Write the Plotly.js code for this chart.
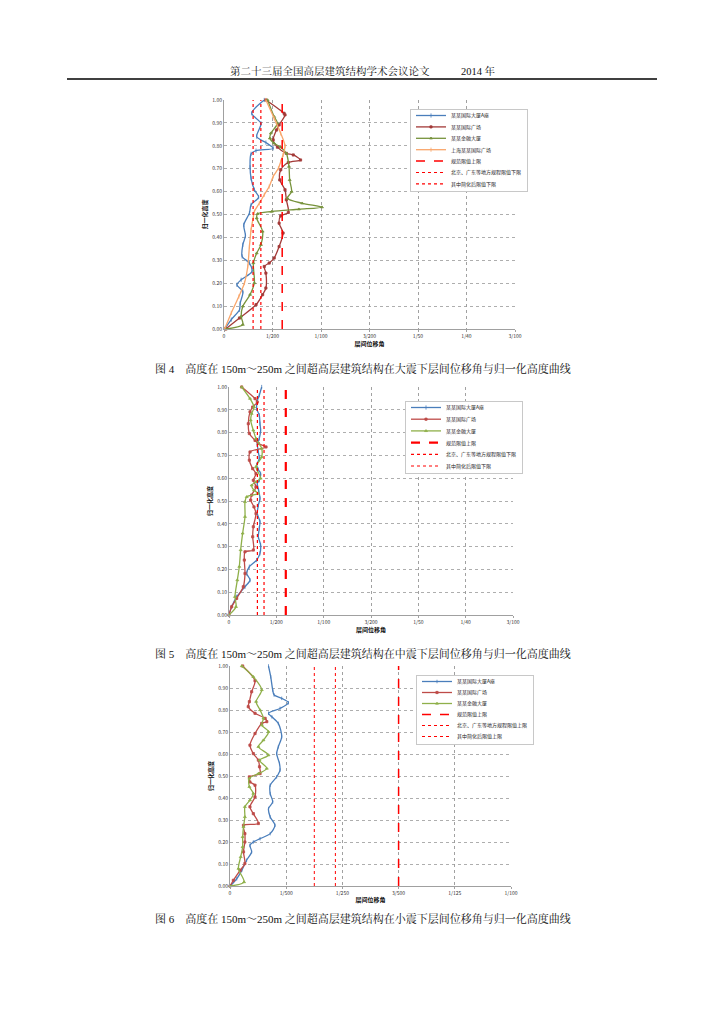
<!DOCTYPE html>
<html>
<head>
<meta charset="utf-8">
<script src="https://cdn.plot.ly/plotly-3.0.1.min.js"></script>
<style>
html,body{margin:0;padding:0;background:#fff;}
#chart{width:724px;height:1024px;}
</style>
</head>
<body>
<div id="chart"></div>
<script>
// ---------- Chart 1 (大震) ----------
var c1Names = ['某某国际大厦A座','某某国际广场','某某金融大厦','上海某某国际广场','规范限值上限','北京、广东等地方规程限值下限','其中简化后限值下限'];
var c1BlueH = [1.00,0.942,0.898,0.840,0.814,0.789,0.779,0.765,0.706,0.658,0.608,0.576,0.542,0.506,0.455,0.407,0.368,0.317,0.288,0.251,0.215,0.193,0.164,0.113,0.084,0.041,0];
var c1BlueX = [0.00415,0.00286,0.00381,0.00337,0.00432,0.00507,0.00330,0.00279,0.00269,0.00279,0.00313,0.00357,0.00279,0.00262,0.00204,0.00221,0.00194,0.00187,0.00262,0.00289,0.00177,0.00133,0.00194,0.00167,0.00160,0.00075,0.00007];
var c1RedH = [1.00,0.942,0.935,0.891,0.869,0.826,0.794,0.767,0.760,0.738,0.727,0.695,0.651,0.608,0.564,0.509,0.494,0.462,0.419,0.360,0.310,0.288,0.273,0.244,0.179,0.150,0.106,0.048,0];
var c1RedX = [0.00432,0.00619,0.00629,0.00568,0.00541,0.00507,0.00551,0.00643,0.00714,0.00789,0.00663,0.00585,0.00575,0.00629,0.00643,0.00663,0.00585,0.00568,0.00609,0.00568,0.00517,0.00466,0.00415,0.00432,0.00432,0.00398,0.00330,0.00160,0.00017];
var c1GreenH = [1.00,0.927,0.898,0.855,0.833,0.811,0.794,0.767,0.709,0.651,0.600,0.571,0.549,0.532,0.523,0.513,0.503,0.484,0.426,0.368,0.331,0.288,0.201,0.150,0.099,0.055,0.019,0];
var c1GreenX = [0.00449,0.00517,0.00551,0.00483,0.00473,0.00517,0.00585,0.00643,0.00670,0.00677,0.00697,0.00653,0.00806,0.01010,0.00772,0.00493,0.00347,0.00337,0.00398,0.00381,0.00337,0.00303,0.00313,0.00269,0.00194,0.00177,0.00194,0.00024];
var c1OrangeH = [1.00,0.920,0.854,0.799,0.760,0.731,0.702,0.666,0.622,0.586,0.549,0.513,0.491,0.433,0.360,0.273,0.201,0.142,0.070,0];
var c1OrangeX = [0.00432,0.00517,0.00585,0.00629,0.00609,0.00585,0.00561,0.00507,0.00466,0.00415,0.00364,0.00313,0.00303,0.00279,0.00262,0.00245,0.00211,0.00153,0.00075,0.00007];
var c1Limits = [0.0060,0.0038,0.0030];
var c1TickVals = [0,0.005,0.01,0.015,0.02,0.025,0.03];
var c1TickText = ['0','1/200','1/100','3/200','1/50','1/40','3/100'];

// ---------- Chart 2 (中震) ----------
var c2Names = ['某某国际大厦A座','某某国际广场','某某金融大厦','规范限值上限','北京、广东等地方规程限值下限','其中简化后限值下限'];
var c2BlueH = [1.00,0.964,0.939,0.905,0.876,0.839,0.810,0.774,0.752,0.715,0.686,0.657,0.638,0.620,0.591,0.577,0.547,0.511,0.482,0.445,0.409,0.380,0.343,0.307,0.270,0.241,0.212,0.182,0.153,0.124,0.080,0.036,0];
var c2BlueX = [0.00345,0.00320,0.00299,0.00292,0.00320,0.00327,0.00334,0.00320,0.00299,0.00310,0.00320,0.00292,0.00310,0.00334,0.00320,0.00299,0.00313,0.00327,0.00310,0.00299,0.00327,0.00320,0.00310,0.00334,0.00327,0.00292,0.00215,0.00187,0.00222,0.00169,0.00081,0.00028,0];
var c2RedH = [1.00,0.949,0.934,0.912,0.891,0.839,0.796,0.766,0.752,0.737,0.715,0.679,0.642,0.620,0.591,0.562,0.526,0.504,0.474,0.445,0.387,0.343,0.285,0.277,0.241,0.182,0.124,0.073,0.036,0];
var c2RedX = [0.00134,0.00275,0.00299,0.00250,0.00222,0.00204,0.00215,0.00275,0.00310,0.00391,0.00222,0.00215,0.00250,0.00285,0.00257,0.00285,0.00239,0.00229,0.00264,0.00285,0.00257,0.00250,0.00257,0.00169,0.00162,0.00169,0.00151,0.00081,0.00028,0];
var c2GreenH = [1.00,0.949,0.912,0.883,0.854,0.810,0.774,0.730,0.693,0.650,0.599,0.584,0.569,0.547,0.533,0.518,0.496,0.431,0.358,0.285,0.212,0.153,0.080,0.036,0];
var c2GreenX = [0.00134,0.00222,0.00264,0.00239,0.00229,0.00257,0.00285,0.00345,0.00345,0.00285,0.00334,0.00285,0.00239,0.00264,0.00310,0.00187,0.00169,0.00169,0.00144,0.00123,0.00109,0.00088,0.00063,0.00074,0];
var c2Limits = [0.0060,0.0037,0.0030];
var c2TickVals = [0,0.005,0.01,0.015,0.02,0.025,0.03];
var c2TickText = ['0','1/200','1/100','3/200','1/50','1/40','3/100'];

// ---------- Chart 3 (小震) ----------
var c3Names = ['某某国际大厦A座','某某国际广场','某某金融大厦','规范限值上限','北京、广东等地方规程限值上限','其中简化后限值上限'];
var c3BlueH = [1.00,0.951,0.891,0.868,0.853,0.833,0.807,0.785,0.769,0.739,0.678,0.633,0.602,0.557,0.527,0.496,0.458,0.420,0.382,0.352,0.314,0.276,0.238,0.215,0.200,0.185,0.155,0.117,0.071,0.033,0];
var c3BlueX = [0.00137,0.00145,0.00152,0.00157,0.00184,0.00208,0.00178,0.00137,0.00149,0.00172,0.00184,0.00172,0.00166,0.00176,0.00178,0.00166,0.00143,0.00143,0.00152,0.00137,0.00143,0.00160,0.00143,0.00107,0.00083,0.00071,0.00077,0.00059,0.00042,0.00024,0];
var c3RedH = [1.00,0.933,0.883,0.838,0.815,0.785,0.762,0.747,0.739,0.693,0.640,0.602,0.572,0.542,0.511,0.496,0.473,0.458,0.405,0.360,0.329,0.284,0.276,0.238,0.200,0.155,0.102,0.071,0.026,0];
var c3RedX = [0.00045,0.00089,0.00077,0.00069,0.00065,0.00089,0.00125,0.00131,0.00113,0.00089,0.00071,0.00083,0.00101,0.00105,0.00107,0.00069,0.00071,0.00089,0.00089,0.00071,0.00083,0.00101,0.00048,0.00053,0.00053,0.00048,0.00053,0.00036,0.00012,0];
var c3GreenH = [1.00,0.951,0.891,0.838,0.800,0.762,0.731,0.701,0.663,0.633,0.595,0.572,0.534,0.511,0.489,0.451,0.420,0.390,0.360,0.314,0.269,0.223,0.178,0.132,0.079,0.018,0];
var c3GreenX = [0.00042,0.00083,0.00113,0.00093,0.00107,0.00119,0.00113,0.00137,0.00119,0.00101,0.00137,0.00105,0.00131,0.00101,0.00069,0.00069,0.00083,0.00071,0.00053,0.00053,0.00048,0.00045,0.00045,0.00038,0.00030,0.00050,0];
var c3Limits = [0.0060,0.00375,0.0030];
var c3TickVals = [0,0.002,0.004,0.006,0.008,0.01];
var c3TickText = ['0','1/500','1/250','3/500','1/125','1/100'];

// ---------- text ----------
var headerText = '第二十三届全国高层建筑结构学术会议论文　　　2014 年';
var captions = [
  '图 4　高度在 150m～250m 之间超高层建筑结构在大震下层间位移角与归一化高度曲线',
  '图 5　高度在 150m～250m 之间超高层建筑结构在中震下层间位移角与归一化高度曲线',
  '图 6　高度在 150m～250m 之间超高层建筑结构在小震下层间位移角与归一化高度曲线'
];
var xTitle = '层间位移角';
var yTitle = '归一化高度';

// ---------- styles ----------
var BLUE = '#4a7ebb', RED1 = '#a33a38', RED = '#be4b48', GREEN = '#77933c', GREEN2 = '#8fb04a', ORANGE = '#f9a66b', LIM = '#ff0000';
var CJK = '"Noto Sans CJK SC", "Noto Sans", sans-serif';
var SERIF = '"Liberation Serif", "Noto Serif CJK SC", "Noto Sans CJK SC", serif';

function series(x, y, name, color, sym, xa, ya, lg, msize) {
  return {
    x: x, y: y, name: name, type: 'scatter', mode: 'lines+markers',
    line: {color: color, width: 1.3, shape: 'spline', smoothing: 0.8},
    marker: {color: color, symbol: sym, size: msize || 3, line: {color: color, width: 0.8}},
    xaxis: xa, yaxis: ya, legend: lg, cliponaxis: false
  };
}
function limit(v, name, dash, width, xa, ya, lg) {
  return {
    x: [v, v], y: [0, 1], name: name, type: 'scatter', mode: 'lines',
    line: {color: LIM, width: width, dash: dash},
    xaxis: xa, yaxis: ya, legend: lg
  };
}

var traces = [
  series(c1BlueX, c1BlueH, c1Names[0], BLUE, 'line-ns', 'x', 'y', 'legend', 3),
  series(c1RedX, c1RedH, c1Names[1], RED1, 'square', 'x', 'y', 'legend', 2.2),
  series(c1GreenX, c1GreenH, c1Names[2], GREEN, 'triangle-up', 'x', 'y', 'legend', 2.6),
  series(c1OrangeX, c1OrangeH, c1Names[3], ORANGE, 'line-ns', 'x', 'y', 'legend', 3),
  limit(c1Limits[0], c1Names[4], 'dash', 1.5, 'x', 'y', 'legend'),
  limit(c1Limits[1], c1Names[5], 'dot', 1.2, 'x', 'y', 'legend'),
  limit(c1Limits[2], c1Names[6], 'dot', 1.2, 'x', 'y', 'legend'),

  series(c2BlueX, c2BlueH, c2Names[0], BLUE, 'line-ns', 'x2', 'y2', 'legend2', 3),
  series(c2RedX, c2RedH, c2Names[1], RED, 'square', 'x2', 'y2', 'legend2', 2.2),
  series(c2GreenX, c2GreenH, c2Names[2], GREEN2, 'triangle-up', 'x2', 'y2', 'legend2', 2.6),
  limit(c2Limits[0], c2Names[3], 'dash', 2.2, 'x2', 'y2', 'legend2'),
  limit(c2Limits[1], c2Names[4], 'dot', 1.2, 'x2', 'y2', 'legend2'),
  limit(c2Limits[2], c2Names[5], 'dot', 1.2, 'x2', 'y2', 'legend2'),

  series(c3BlueX, c3BlueH, c3Names[0], BLUE, 'line-ns', 'x3', 'y3', 'legend3', 2.5),
  series(c3RedX, c3RedH, c3Names[1], RED, 'square', 'x3', 'y3', 'legend3', 2.2),
  series(c3GreenX, c3GreenH, c3Names[2], GREEN2, 'triangle-up', 'x3', 'y3', 'legend3', 2.6),
  limit(c3Limits[0], c3Names[3], 'dash', 1.5, 'x3', 'y3', 'legend3'),
  limit(c3Limits[1], c3Names[4], 'dot', 1.0, 'x3', 'y3', 'legend3'),
  limit(c3Limits[2], c3Names[5], 'dot', 1.0, 'x3', 'y3', 'legend3')
];

var W = 724, H = 1024;
function px(v) { return v / W; }
function py(v) { return 1 - v / H; }

function xAxis(l, r, anchor, range, tv, tt) {
  return {
    domain: [px(l), px(r)], anchor: anchor, range: range,
    tickvals: tv, ticktext: tt, tickfont: {size: 5, color: '#333', family: CJK},
    showgrid: true, gridcolor: '#8a8a8a', griddash: 'dot', gridwidth: 0.8,
    showline: true, linecolor: '#a0a0a0', linewidth: 1, ticks: 'outside', ticklen: 2, tickcolor: '#a0a0a0',
    zeroline: false, fixedrange: true,
    title: {text: xTitle, font: {size: 6, color: '#111', family: CJK, weight: 'bold'}, standoff: 2}
  };
}
function yAxis(b, t, anchor) {
  return {
    domain: [py(b), py(t)], anchor: anchor, range: [0, 1],
    dtick: 0.1, tick0: 0, tickformat: '.2f', tickfont: {size: 5, color: '#333', family: CJK},
    showgrid: true, gridcolor: '#9a9a9a', griddash: 'dot', gridwidth: 0.8,
    showline: true, linecolor: '#a0a0a0', linewidth: 1, ticks: '', zeroline: false, fixedrange: true,
    title: {text: yTitle, font: {size: 6, color: '#111', family: CJK, weight: 'bold'}, standoff: 4}
  };
}
function legendCfg(l, t) {
  return {
    x: px(l), y: py(t), xanchor: 'left', yanchor: 'top',
    bgcolor: '#ffffff', bordercolor: '#c8c8c8', borderwidth: 1,
    font: {size: 5, color: '#222', family: CJK}, itemwidth: 30, tracegroupgap: 0
  };
}

var layout = {
  width: W, height: H, margin: {l: 0, r: 0, t: 0, b: 0},
  paper_bgcolor: '#fff', plot_bgcolor: '#fff', showlegend: true,
  xaxis: xAxis(224, 515, 'y', [0, 0.03], c1TickVals, c1TickText),
  yaxis: yAxis(329, 100, 'x'),
  xaxis2: xAxis(229, 513, 'y2', [0, 0.03], c2TickVals, c2TickText),
  yaxis2: yAxis(615, 387, 'x2'),
  xaxis3: xAxis(230, 511, 'y3', [0, 0.01], c3TickVals, c3TickText),
  yaxis3: yAxis(886, 666, 'x3'),
  legend: legendCfg(410, 109),
  legend2: legendCfg(405, 401),
  legend3: legendCfg(416, 675),
  shapes: [
    {type: 'line', xref: 'paper', yref: 'paper', x0: px(67), x1: px(657), y0: py(79), y1: py(79), line: {color: '#000', width: 1.5}}
  ],
  annotations: [
    {text: headerText, xref: 'paper', yref: 'paper', x: px(363), y: py(71), xanchor: 'center', yanchor: 'middle', showarrow: false, font: {size: 10.5, color: '#111', family: SERIF}},
    {text: captions[0], xref: 'paper', yref: 'paper', x: px(363), y: py(368), xanchor: 'center', yanchor: 'middle', showarrow: false, font: {size: 11, color: '#111', family: SERIF}},
    {text: captions[1], xref: 'paper', yref: 'paper', x: px(363), y: py(653), xanchor: 'center', yanchor: 'middle', showarrow: false, font: {size: 11, color: '#111', family: SERIF}},
    {text: captions[2], xref: 'paper', yref: 'paper', x: px(363), y: py(918), xanchor: 'center', yanchor: 'middle', showarrow: false, font: {size: 11, color: '#111', family: SERIF}}
  ]
};

function compactLegends() {
  var spacing = {legend: 11.4, legend2: 11.7, legend3: 11.0};
  Object.keys(spacing).forEach(function(cls) {
    var lg = document.querySelector('g.' + cls);
    if (!lg) return;
    var items = lg.querySelectorAll('g.traces');
    if (!items.length) return;
    var xs = [];
    items.forEach(function(it) {
      var m = /translate\(\s*([-\d.e]+)[ ,]+([-\d.e]+)\s*\)/.exec(it.getAttribute('transform') || '');
      xs.push(m ? parseFloat(m[1]) : 0);
    });
    var sp = spacing[cls];
    var newY0 = 6.5;
    items.forEach(function(it, i) {
      it.setAttribute('transform', 'translate(' + xs[i] + ',' + (newY0 + i * sp) + ')');
    });
    var newH = newY0 + (items.length - 1) * sp + 7;
    var bg = lg.querySelector('rect.bg');
    if (bg) bg.setAttribute('height', newH);
    lg.querySelectorAll('clipPath rect, rect.scrollbox-bg').forEach(function(r) { r.setAttribute('height', newH); });
    var sb = lg.querySelector('g.scrollbox');
    if (sb) sb.removeAttribute('clip-path');
  });
}

Plotly.newPlot('chart', traces, layout, {staticPlot: true, displayModeBar: false}).then(compactLegends);
</script>
</body>
</html>
